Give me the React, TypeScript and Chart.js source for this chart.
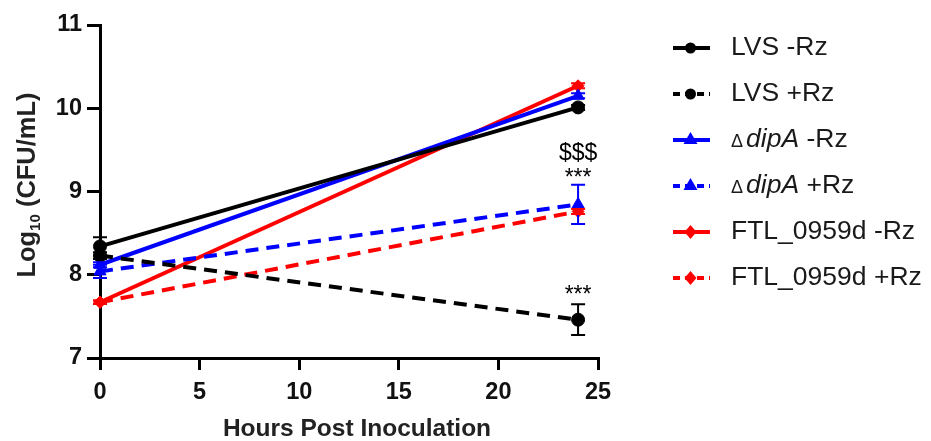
import React, { useEffect, useRef } from "react";
import { Chart, registerables } from "chart.js";

Chart.register(...registerables);

const hours = [0, 24];
const xTicks = [0, 5, 10, 15, 20, 25];
const yTicks = [7, 8, 9, 10, 11];

const lvsMinus = [8.34, 10.01];
const lvsMinusErr = [0.11, 0.03];
const lvsPlus = [8.23, 7.46];
const lvsPlusErr = [0.04, 0.185];
const dipMinus = [8.12, 10.15];
const dipMinusErr = [0.03, 0.03];
const dipPlus = [8.04, 8.845];
const dipPlusErr = [0.08, 0.235];
const ftlMinus = [7.67, 10.27];
const ftlMinusErr = [0.02, 0.03];
const ftlPlus = [7.67, 8.76];
const ftlPlusErr = [0.02, 0.03];

const seriesNames = ["LVS -Rz", "LVS +Rz", "ΔdipA -Rz", "ΔdipA +Rz", "FTL_0959d -Rz", "FTL_0959d +Rz"];

const annotations = [
  { x: 24, y: 9.38, text: "$$$" },
  { x: 24, y: 9.08, text: "***" },
  { x: 24, y: 7.67, text: "***" },
];

const FONT = "'Liberation Sans', Arial, sans-serif";

function mk(label: string, data: number[], err: number[], color: string, dashed: boolean, pointStyle: string, radius: number) {
  return {
    label,
    data: hours.map((h, i) => ({ x: h, y: data[i] })),
    errors: err,
    borderColor: color,
    backgroundColor: color,
    borderWidth: 4,
    borderDash: dashed ? [13, 8] : [],
    pointStyle,
    pointRadius: radius,
    pointHoverRadius: radius,
    pointBorderWidth: 1,
    pointBorderColor: color,
    pointBackgroundColor: color,
    clip: false as any,
    tension: 0,
  };
}

const errorBars = {
  id: "errorBars",
  afterDatasetsDraw(chart: any) {
    const { ctx } = chart;
    const xs = chart.scales.x;
    const ys = chart.scales.y;
    chart.data.datasets.forEach((ds: any) => {
      ctx.save();
      ctx.strokeStyle = ds.borderColor;
      ctx.lineWidth = 2;
      ctx.setLineDash([]);
      ds.data.forEach((p: any, i: number) => {
        const e = ds.errors[i];
        const px = xs.getPixelForValue(p.x);
        const top = ys.getPixelForValue(p.y + e);
        const bot = ys.getPixelForValue(p.y - e);
        ctx.beginPath();
        ctx.moveTo(px, top);
        ctx.lineTo(px, bot);
        ctx.moveTo(px - 7, top);
        ctx.lineTo(px + 7, top);
        ctx.moveTo(px - 7, bot);
        ctx.lineTo(px + 7, bot);
        ctx.stroke();
      });
      ctx.restore();
    });
  },
};

const decorations = {
  id: "decorations",
  afterDraw(chart: any) {
    const { ctx } = chart;
    const xs = chart.scales.x;
    const ys = chart.scales.y;
    ctx.save();
    ctx.fillStyle = "#000";
    // annotations
    ctx.font = `23px ${FONT}`;
    ctx.textAlign = "center";
    ctx.textBaseline = "alphabetic";
    annotations.forEach((a) => {
      ctx.fillText(a.text, xs.getPixelForValue(a.x), ys.getPixelForValue(a.y));
    });
    // x title
    ctx.font = `bold 24.5px ${FONT}`;
    ctx.textAlign = "center";
    ctx.textBaseline = "middle";
    ctx.fillStyle = "#222";
    ctx.fillText("Hours Post Inoculation", 357, 429);
    // y title with subscript
    ctx.save();
    ctx.translate(28, 185);
    ctx.rotate(-Math.PI / 2);
    const big = `bold 25.5px ${FONT}`;
    const small = `bold 15px ${FONT}`;
    ctx.font = big;
    const w1 = ctx.measureText("Log").width;
    const w3 = ctx.measureText(" (CFU/mL)").width;
    ctx.font = small;
    const w2 = ctx.measureText("10").width;
    const total = w1 + w2 + w3;
    let cx = -total / 2;
    ctx.textAlign = "left";
    ctx.textBaseline = "middle";
    ctx.font = big;
    ctx.fillText("Log", cx, 0);
    cx += w1;
    ctx.font = small;
    ctx.fillText("10", cx, 8);
    cx += w2;
    ctx.font = big;
    ctx.fillText(" (CFU/mL)", cx, 0);
    ctx.restore();
    // legend
    const lx0 = 673, lx1 = 710, tx = 731;
    chart.data.datasets.forEach((ds: any, i: number) => {
      const y = 48 + i * 46;
      ctx.save();
      ctx.strokeStyle = ds.borderColor;
      ctx.fillStyle = ds.borderColor;
      ctx.lineWidth = 4;
      ctx.setLineDash(ds.borderDash.length ? [7, 5] : []);
      ctx.beginPath();
      ctx.moveTo(lx0, y);
      ctx.lineTo(lx1, y);
      ctx.stroke();
      ctx.setLineDash([]);
      const mx = (lx0 + lx1) / 2 - 1;
      ctx.beginPath();
      if (ds.pointStyle === "circle") {
        ctx.arc(mx, y, 5.5, 0, Math.PI * 2);
      } else if (ds.pointStyle === "triangle") {
        ctx.moveTo(mx, y - 8);
        ctx.lineTo(mx + 7, y + 4);
        ctx.lineTo(mx - 7, y + 4);
        ctx.closePath();
      } else {
        ctx.moveTo(mx, y - 7);
        ctx.lineTo(mx + 6, y);
        ctx.lineTo(mx, y + 7);
        ctx.lineTo(mx - 6, y);
        ctx.closePath();
      }
      ctx.fill();
      ctx.restore();
      ctx.fillStyle = "#1a1a1a";
      ctx.textAlign = "left";
      ctx.textBaseline = "middle";
      const name: string = seriesNames[i];
      if (name.startsWith("Δ")) {
        let cx = tx;
        ctx.font = `18px ${FONT}`;
        ctx.fillText("Δ", cx, y + 2);
        cx += ctx.measureText("Δ").width + 3;
        ctx.font = `italic 26.5px ${FONT}`;
        ctx.fillText("dipA", cx, y);
        cx += ctx.measureText("dipA").width;
        ctx.font = `26.5px ${FONT}`;
        ctx.fillText(name.slice(5), cx, y);
      } else {
        ctx.font = `26.5px ${FONT}`;
        ctx.fillText(name, tx, y);
      }
    });
    ctx.restore();
  },
};

export default function App() {
  const ref = useRef<HTMLCanvasElement>(null);
  useEffect(() => {
    if (!ref.current) return;
    const chart = new Chart(ref.current, {
      type: "line",
      data: {
        datasets: [
          mk(seriesNames[0], lvsMinus, lvsMinusErr, "#000000", false, "circle", 6.5),
          mk(seriesNames[1], lvsPlus, lvsPlusErr, "#000000", true, "circle", 6.5),
          mk(seriesNames[2], dipMinus, dipMinusErr, "#0000ff", false, "triangle", 7),
          mk(seriesNames[3], dipPlus, dipPlusErr, "#0000ff", true, "triangle", 7),
          mk(seriesNames[4], ftlMinus, ftlMinusErr, "#ff0000", false, "rectRot", 6),
          mk(seriesNames[5], ftlPlus, ftlPlusErr, "#ff0000", true, "rectRot", 6),
        ] as any,
      },
      options: {
        animation: false,
        responsive: false,
        layout: { padding: { top: 25, right: 333, left: 0, bottom: 0 } },
        plugins: { legend: { display: false }, tooltip: { enabled: false } },
        scales: {
          x: {
            type: "linear",
            min: 0,
            max: 25,
            afterBuildTicks: (s: any) => { s.ticks = xTicks.map((v) => ({ value: v })); },
            afterFit: (s: any) => { s.height = 83; },
            ticks: { color: "#111", font: { family: FONT, size: 23.5, weight: "bold" }, padding: 8, maxRotation: 0 },
            grid: { drawOnChartArea: false, color: "#000", lineWidth: 3, tickLength: 12, tickColor: "#000" },
            border: { color: "#000", width: 3 },
          },
          y: {
            type: "linear",
            min: 7,
            max: 11,
            afterBuildTicks: (s: any) => { s.ticks = yTicks.map((v) => ({ value: v })); },
            afterFit: (s: any) => { s.width = 100; },
            ticks: { color: "#111", font: { family: FONT, size: 23.5, weight: "bold" }, padding: 5 },
            grid: { drawOnChartArea: false, color: "#000", lineWidth: 3, tickLength: 13, tickColor: "#000" },
            border: { color: "#000", width: 3 },
          },
        },
      } as any,
      plugins: [errorBars, decorations],
    });
    return () => chart.destroy();
  }, []);
  return (
    <div style={{ position: "fixed", left: 0, top: 0, width: 931, height: 441, background: "#fff" }}>
      <canvas ref={ref} width={931} height={441} style={{ width: 931, height: 441, display: "block" }} />
    </div>
  );
}
